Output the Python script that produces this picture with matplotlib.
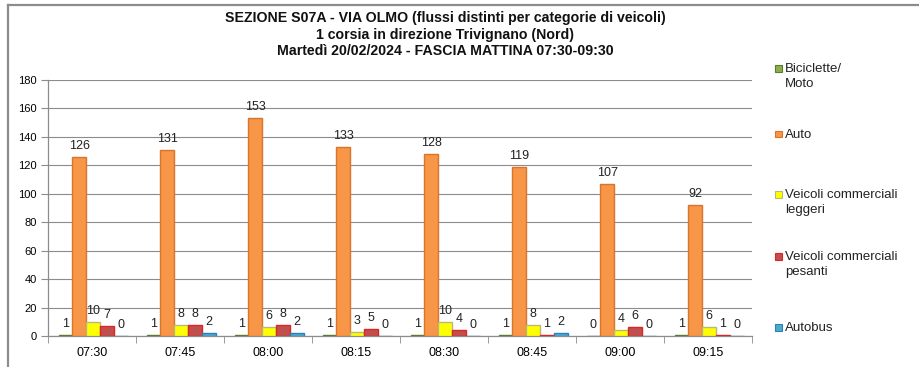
import matplotlib
matplotlib.use("Agg")
import matplotlib.pyplot as plt
from matplotlib.patches import Rectangle
from matplotlib.lines import Line2D
import numpy as np

plt.rcParams['font.family'] = ['Liberation Sans', 'DejaVu Sans']

# Time slots (15 min) and vehicle counts per category
fasce = ["07:30", "07:45", "08:00", "08:15", "08:30", "08:45", "09:00", "09:15"]
biciclette_moto = [1, 1, 1, 1, 1, 1, 0, 1]
auto = [126, 131, 153, 133, 128, 119, 107, 92]
comm_leggeri = [10, 8, 6, 3, 10, 8, 4, 6]
comm_pesanti = [7, 8, 8, 5, 4, 1, 6, 1]
autobus = [0, 2, 2, 0, 0, 2, 0, 0]

serie = [
    ("Biciclette/\nMoto", biciclette_moto, "#8DB04D", "#5E7A2E"),
    ("Auto", auto, "#F79646", "#D9742C"),
    ("Veicoli commerciali\nleggeri", comm_leggeri, "#FFFF00", "#B8B87A"),
    ("Veicoli commerciali\npesanti", comm_pesanti, "#C0504D", "#E02424"),
    ("Autobus", autobus, "#4BACC6", "#2F7FC0"),
]

W, H = 920, 367
fig = plt.figure(figsize=(W / 100, H / 100), dpi=100)
fig.patch.set_facecolor("white")

# outer frame (top and left edges)
fig.add_artist(Line2D([8 / W, 1], [1 - 5 / H, 1 - 5 / H], color="#8C8C8C", lw=1.6))
fig.add_artist(Line2D([8 / W, 8 / W], [0, 1 - 5 / H], color="#8C8C8C", lw=1.6))

ax = fig.add_axes([48 / W, 31 / H, 704 / W, 256 / H])
x = np.arange(len(fasce))
bw = 0.157
for i, (nome, vals, fc, ec) in enumerate(serie):
    pos = x + (i - 2) * bw + 0.012
    bars = ax.bar(pos, vals, width=bw, color=fc, edgecolor=ec, linewidth=1.0, zorder=3)
    for b, v in zip(bars, vals):
        ax.annotate(str(v), (b.get_x() + b.get_width() / 2, v),
                    xytext=(0, 5), textcoords="offset pixels",
                    ha="center", va="bottom", fontsize=9, color="#222222", zorder=4)

ax.set_xlim(-0.5, len(fasce) - 0.5)
ax.set_ylim(0, 180)
ax.set_yticks(np.arange(0, 181, 20))
ax.yaxis.grid(True, color="#8C8C8C", lw=0.8, zorder=0)
ax.set_axisbelow(True)
ax.set_xticks(x)
ax.set_xticklabels(fasce, fontsize=9)
ax.set_xticks(np.arange(-0.5, len(fasce)), minor=True)
ax.tick_params(axis="x", which="major", length=0, pad=8)
ax.tick_params(axis="x", which="minor", length=5, color="#8C8C8C", direction="out")
ax.tick_params(axis="y", length=5, color="#8C8C8C", labelsize=8, pad=3)
for s in ["top", "right"]:
    ax.spines[s].set_visible(False)
for s in ["left", "bottom"]:
    ax.spines[s].set_color("#8C8C8C")
    ax.spines[s].set_linewidth(0.9)

# title
titoli = [
    "SEZIONE S07A - VIA OLMO (flussi distinti per categorie di veicoli)",
    "1 corsia in direzione Trivignano (Nord)",
    "Martedì 20/02/2024 - FASCIA MATTINA 07:30-09:30",
]
for k, t in enumerate(titoli):
    fig.text(445 / W, 1 - (18 + 16.5 * k) / H, t, ha="center", va="center",
             fontsize=10.2, fontweight="bold", color="#111111")

# legend
leg_y = [68, 134, 194, 256, 327]
for (nome, vals, fc, ec), yy in zip(serie, leg_y):
    fig.add_artist(Rectangle((775 / W, 1 - (yy + 3.5) / H), 7 / W, 7 / H,
                             facecolor=fc, edgecolor=ec, lw=0.8, transform=fig.transFigure))
    fig.text(785 / W, 1 - (yy - 5) / H, nome, ha="left", va="top",
             fontsize=9.5, color="#222222", linespacing=1.3)

fig.savefig("out.png", dpi=100, facecolor="white")
